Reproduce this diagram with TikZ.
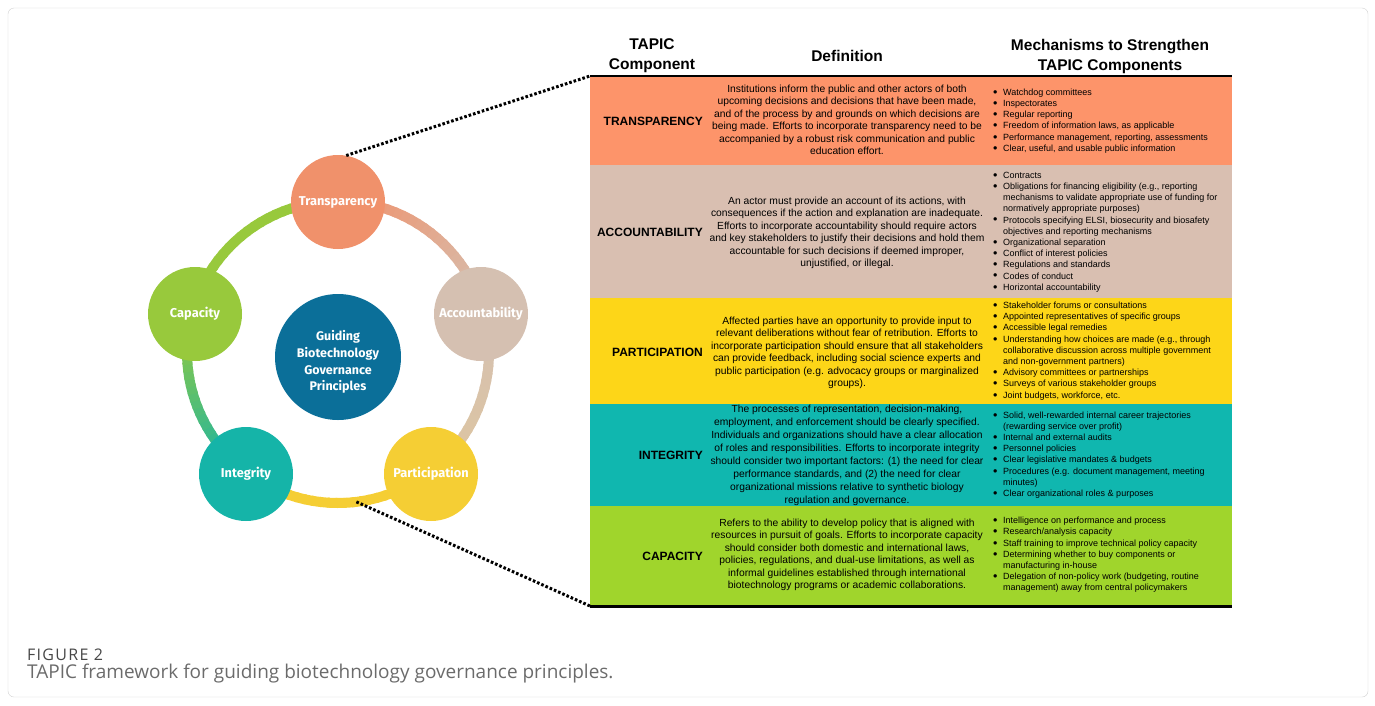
\documentclass[tikz,border=0pt]{standalone}
\usepackage{fontspec}
\setmainfont{Liberation Sans}
\newfontfamily\circfont{Fira Sans}
\newfontfamily\capfont{Open Sans}
\usepackage{xcolor}
\usepackage{tikz}
\usetikzlibrary{calc}

\definecolor{transrow}{RGB}{253,148,106}
\definecolor{acctrow}{RGB}{217,191,177}
\definecolor{partrow}{RGB}{253,214,24}
\definecolor{integrow}{RGB}{16,183,175}
\definecolor{caprow}{RGB}{160,213,44}
\definecolor{transcirc}{RGB}{240,145,107}
\definecolor{acctcirc}{RGB}{213,192,177}
\definecolor{partcirc}{RGB}{245,206,52}
\definecolor{integcirc}{RGB}{21,180,168}
\definecolor{capcirc}{RGB}{152,201,60}
\definecolor{hubblue}{RGB}{11,111,153}
\definecolor{acctfade}{RGB}{222,198,160}

% bullet and hanging indent for the mechanism lists
\newcommand{\bul}{\makebox[10pt][l]{\raisebox{-0.9pt}{\fontsize{12.5}{0}\selectfont\textbullet}}}
\newcommand{\cont}{\hspace*{10pt}}

\begin{document}
\begin{tikzpicture}[
  x=1pt,
  y=1pt,
  circ/.style={circle, minimum size=94pt, inner sep=0pt, text=white,
    font=\circfont\bfseries\fontsize{12.8}{15}\selectfont},
  rowbox/.style={anchor=north west, minimum width=642pt, inner sep=0pt,
    outer sep=0pt},
  rowlabel/.style={anchor=east, inner sep=0pt,
    font=\bfseries\fontsize{12}{14}\selectfont},
  defn/.style={align=center, inner sep=0pt,
    font=\fontsize{10.3}{12.5}\selectfont},
  mech/.style={anchor=west, align=left, inner sep=0pt,
    font=\fontsize{9}{11.2}\selectfont},
  head/.style={align=center, inner sep=0pt,
    font=\bfseries\fontsize{15.5}{20}\selectfont},
  zoomline/.style={line width=3pt, dash pattern=on 2.6pt off 2pt}
]

\useasboundingbox (0,0) rectangle (1375,-705);
\draw[draw=black!18, rounded corners=6pt] (8,-8) rectangle (1368,-697);

% ring of components
\coordinate (hub) at (338,-352);
\foreach \sa/\ea/\ca/\cb in {90/15/transcirc/acctcirc,
    15/-53/acctcirc/acctfade, -53/-127/partcirc/partcirc,
    -127/-195/integcirc/capcirc, 165/90/capcirc/capcirc}
  \foreach \k in {0,...,23} {
    \pgfmathsetmacro\pa{\sa+(\ea-\sa)*\k/24}
    \pgfmathsetmacro\pb{\sa+(\ea-\sa)*(\k+1.3)/24}
    \pgfmathsetmacro\mix{100-100*\k/23}
    \draw[line width=10pt, draw=\ca!\mix!\cb]
      ($(hub)+(\pa:151)$) arc[start angle=\pa, end angle=\pb, radius=151];
  }

\node[circ, fill=transcirc] (trans) at (338,-202) {Transparency};
\node[circ, fill=acctcirc] (acct) at (481,-314) {Accountability};
\node[circ, fill=partcirc] (part) at (431,-474) {Participation};
\node[circ, fill=integcirc] (integ) at (246,-474) {Integrity};
\node[circ, fill=capcirc] (capac) at (195,-314) {Capacity};
\node[circ, fill=hubblue, minimum size=126pt] (core) at (338,-357) {};
\node[align=center, text=white, inner sep=0pt,
  font=\circfont\bfseries\fontsize{12.5}{16.7}\selectfont] (coretext)
  at (338,-362) {Guiding\\Biotechnology\\Governance\\Principles};
\coordinate (ringlow) at ($(hub)+(-83:151)$);

% table
\node[head] (hcomp) at (652,-56) {TAPIC\\Component};
\node[head] (hdef) at (847,-56) {Definition};
\node[head] (hmech) at (1110,-56) {Mechanisms to Strengthen\\TAPIC Components};

\node[rowbox, fill=transrow, minimum height=89pt] (rtrans) at (590,-76) {};
\node[rowbox, fill=acctrow, minimum height=133pt] (racct) at (590,-165) {};
\node[rowbox, fill=partrow, minimum height=106pt] (rpart) at (590,-298) {};
\node[rowbox, fill=integrow, minimum height=102pt] (rinteg) at (590,-404) {};
\node[rowbox, fill=caprow, minimum height=100pt] (rcap) at (590,-506) {};
\draw[line width=2.5pt] (rtrans.north west) -- (rtrans.north east);
\draw[line width=3pt] (rcap.south west) -- (rcap.south east);

\node[rowlabel] (ltrans) at (703,-121) {TRANSPARENCY};
\node[rowlabel] (lacct) at (703,-232) {ACCOUNTABILITY};
\node[rowlabel] (lpart) at (703,-352) {PARTICIPATION};
\node[rowlabel] (linteg) at (703,-455) {INTEGRITY};
\node[rowlabel] (lcap) at (703,-556) {CAPACITY};

\node[defn] (dtrans) at (847,-120)
  {Institutions inform the public and other actors of both\\
   upcoming decisions and decisions that have been made,\\
   and of the process by and grounds on which decisions are\\
   being made. Efforts to incorporate transparency need to be\\
   accompanied by a robust risk communication and public\\
   education effort.};
\node[defn] (dacct) at (847,-233)
  {An actor must provide an account of its actions, with\\
   consequences if the action and explanation are inadequate.\\
   Efforts to incorporate accountability should require actors\\
   and key stakeholders to justify their decisions and hold them\\
   accountable for such decisions if deemed improper,\\
   unjustified, or illegal.};
\node[defn] (dpart) at (847,-353)
  {Affected parties have an opportunity to provide input to\\
   relevant deliberations without fear of retribution. Efforts to\\
   incorporate participation should ensure that all stakeholders\\
   can provide feedback, including social science experts and\\
   public participation (e.g. advocacy groups or marginalized\\
   groups).};
\node[defn, font=\fontsize{10.3}{13}\selectfont] (dinteg) at (847,-455)
  {The processes of representation, decision-making,\\
   employment, and enforcement should be clearly specified.\\
   Individuals and organizations should have a clear allocation\\
   of roles and responsibilities. Efforts to incorporate integrity\\
   should consider two important factors: (1) the need for clear\\
   performance standards, and (2) the need for clear\\
   organizational missions relative to synthetic biology\\
   regulation and governance.};
\node[defn] (dcap) at (847,-555)
  {Refers to the ability to develop policy that is aligned with\\
   resources in pursuit of goals. Efforts to incorporate capacity\\
   should consider both domestic and international laws,\\
   policies, regulations, and dual-use limitations, as well as\\
   informal guidelines established through international\\
   biotechnology programs or academic collaborations.};

\node[mech] (mtrans) at (993,-121)
  {\bul Watchdog committees\\
   \bul Inspectorates\\
   \bul Regular reporting\\
   \bul Freedom of information laws, as applicable\\
   \bul Performance management, reporting, assessments\\
   \bul Clear, useful, and usable public information};
\node[mech] (macct) at (993,-232)
  {\bul Contracts\\
   \bul Obligations for financing eligibility (e.g., reporting\\
   \cont mechanisms to validate appropriate use of funding for\\
   \cont normatively appropriate purposes)\\
   \bul Protocols specifying ELSI, biosecurity and biosafety\\
   \cont objectives and reporting mechanisms\\
   \bul Organizational separation\\
   \bul Conflict of interest policies\\
   \bul Regulations and standards\\
   \bul Codes of conduct\\
   \bul Horizontal accountability};
\node[mech] (mpart) at (993,-351)
  {\bul Stakeholder forums or consultations\\
   \bul Appointed representatives of specific groups\\
   \bul Accessible legal remedies\\
   \bul Understanding how choices are made (e.g., through\\
   \cont collaborative discussion across multiple government\\
   \cont and non-government partners)\\
   \bul Advisory committees or partnerships\\
   \bul Surveys of various stakeholder groups\\
   \bul Joint budgets, workforce, etc.};
\node[mech] (minteg) at (993,-455)
  {\bul Solid, well-rewarded internal career trajectories\\
   \cont (rewarding service over profit)\\
   \bul Internal and external audits\\
   \bul Personnel policies\\
   \bul Clear legislative mandates \& budgets\\
   \bul Procedures (e.g. document management, meeting\\
   \cont minutes)\\
   \bul Clear organizational roles \& purposes};
\node[mech] (mcap) at (993,-555)
  {\bul Intelligence on performance and process\\
   \bul Research/analysis capacity\\
   \bul Staff training to improve technical policy capacity\\
   \bul Determining whether to buy components or\\
   \cont manufacturing in-house\\
   \bul Delegation of non-policy work (budgeting, routine\\
   \cont management) away from central policymakers};

% zoom lines from the ring to the table
\draw[zoomline] (trans.80) -- (rtrans.north west);
\draw[zoomline] (ringlow) -- (rcap.south west);

% caption
\node[anchor=base west, inner sep=0pt, text=black!72,
  font=\capfont\addfontfeature{LetterSpace=8}\fontsize{16}{18}\selectfont]
  (figno) at (27,-660) {FIGURE 2};
\node[anchor=base west, inner sep=0pt, text=black!58,
  font=\capfont\fontsize{19}{21}\selectfont] (figcap) at (27,-678)
  {TAPIC framework for guiding biotechnology governance principles.};

\end{tikzpicture}
\end{document}
